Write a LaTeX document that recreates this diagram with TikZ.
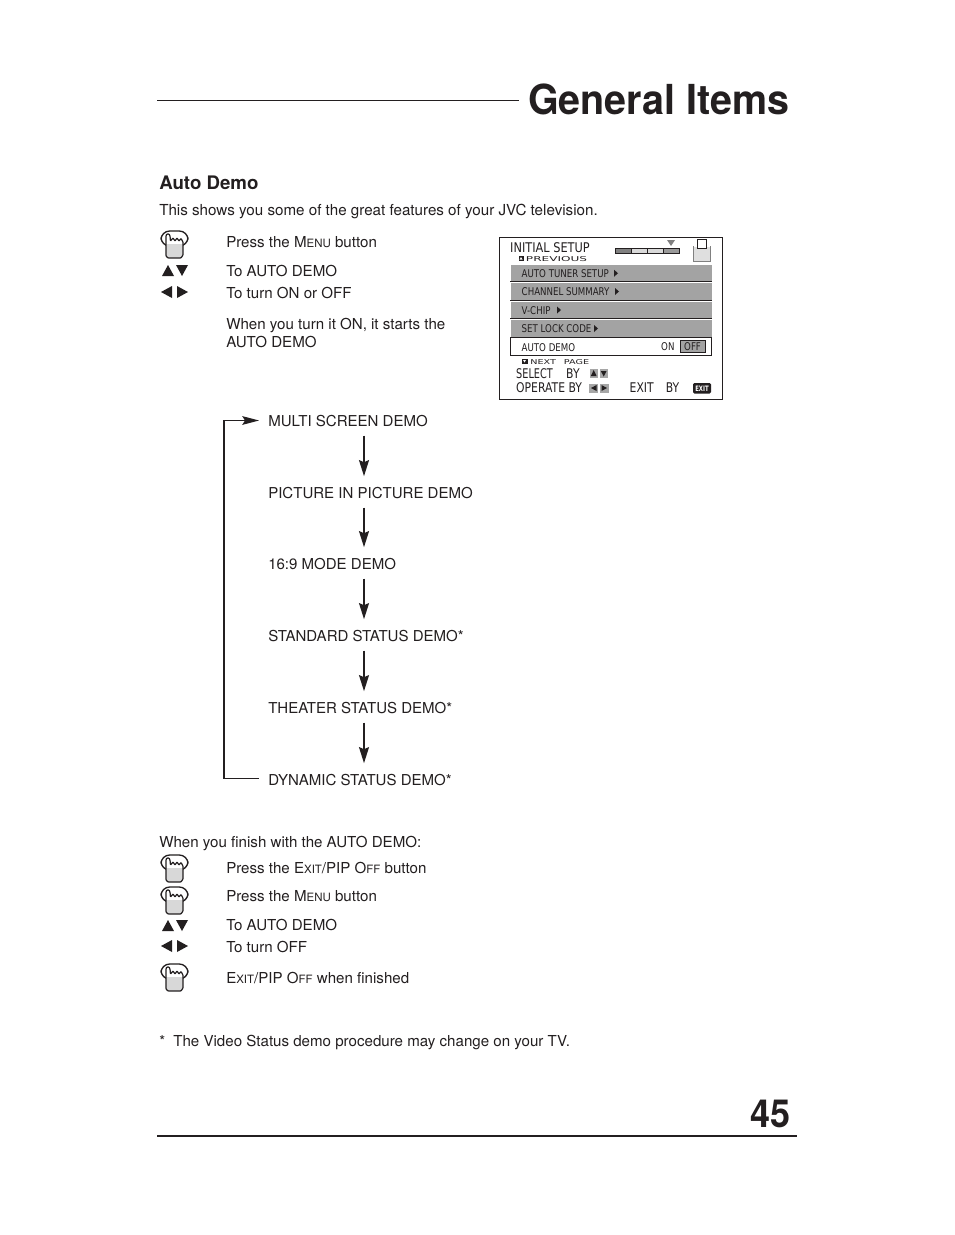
\documentclass[tikz,border=0pt]{standalone}
\usepackage{fontspec}
\setmainfont{TeX Gyre Heros}
\newfontfamily\menufont{DejaVu Sans}
\usetikzlibrary{arrows.meta,calc}
\newcommand{\scs}[1]{{\fontsize{8.6pt}{10pt}\selectfont #1}}
\tikzset{
  x=0.75pt,y=-0.75pt,
  body/.style={anchor=base west,inner sep=0pt,font=\fontsize{11.33pt}{14pt}\selectfont,text=txt},
  flowtext/.style={body,font=\fontsize{11.27pt}{14pt}\selectfont,text height=9pt,text depth=2pt},
  flow/.style={draw=txt,line width=1.1pt,-{Stealth[length=12pt,width=7.5pt,inset=1.5pt]}},
  loopline/.style={draw=txt,line width=0.8pt},
  menu/.style={anchor=base west,inner sep=0pt,text=txt,font=\menufont\fontsize{8pt}{9pt}\selectfont,xscale=0.81},
  menubig/.style={menu,font=\menufont\fontsize{10pt}{11pt}\selectfont},
  menusm/.style={anchor=base west,inner sep=0pt,text=txt,font=\menufont\fontsize{5pt}{6pt}\selectfont,xscale=1.45},
  tri/.style={fill=txt,draw=none},
  hand/.pic={
    \draw[txt,line width=1pt,rounded corners=6.5pt] (1,3) rectangle (28,18);
    \fill[white] (6,28) -- (6,7.5) -- (7,6) -- (9,6) -- (10,8) -- (10.5,13) -- (13,10) -- (15,13) -- (17,10) -- (19,13) -- (21,10.5) -- (23,14) -- (23,27) -- (21,30) -- (8,30) -- cycle;
    \fill[handgray] (6,16) rectangle (23,30);
    \fill[white] (4,27) -- (8,30) -- (4,30) -- cycle;
    \fill[white] (25,27) -- (21,30) -- (25,30) -- cycle;
    \draw[txt,line width=0.9pt,rounded corners=0.5pt]
      (6,28) -- (6,7.5) -- (7,6) -- (9,6) -- (10,8) -- (10.5,13) -- (13,10) -- (15,13) -- (17,10) -- (19,13) -- (21,10.5) -- (23,14) -- (23,27) -- (21,30) -- (8,30) -- cycle;
  }
}
\definecolor{txt}{HTML}{231F20}
\definecolor{menugray}{HTML}{A3A3A3}
\definecolor{handgray}{HTML}{D8D8D8}
\newcommand{\updown}[1]{\fill[tri] ($#1+(1,11)$) -- ($#1+(7,0)$) -- ($#1+(13,11)$) -- cycle; \fill[tri] ($#1+(15,0)$) -- ($#1+(27,0)$) -- ($#1+(21,11)$) -- cycle;}
\newcommand{\leftright}[1]{\fill[tri] ($#1+(1,6)$) -- ($#1+(12,0)$) -- ($#1+(12,12)$) -- cycle; \fill[tri] ($#1+(17,0)$) -- ($#1+(28,6)$) -- ($#1+(17,12)$) -- cycle;}
\begin{document}
\begin{tikzpicture}
\useasboundingbox (0,0) rectangle (954,1235);
\fill[white] (0,0) rectangle (954,1235);
% header
\node[anchor=base east,inner sep=0pt,text=txt,font=\fontsize{31pt}{36pt}\selectfont\bfseries,xscale=0.955] (title) at (789.5,114) {General Items};
\coordinate (headstart) at (157,100.5);
\draw[txt,line width=0.8pt] (headstart) -- (518.5,100.5);
\node[body,font=\fontsize{14pt}{16pt}\selectfont\bfseries] (h) at (159,189) {Auto Demo};
\node[body,font=\fontsize{11.38pt}{14pt}\selectfont] (intro) at (159,215) {This shows you some of the great features of your JVC television.};
% steps
\pic at (160,228) {hand};
\node[body] (s1) at (226,247) {Press the M\scs{ENU} button};
\updown{(161,265)}
\node[body] (s2) at (226,276) {To AUTO DEMO};
\leftright{(160,286)}
\node[body] (s3) at (226,298) {To turn ON or OFF};
\node[body] (s4) at (226,329) {When you turn it ON, it starts the};
\node[body] (s5) at (226,347) {AUTO DEMO};
% menu screen
\draw[txt,line width=0.7pt] (499.5,237.5) rectangle (722.5,399.5);
\node[menubig,xscale=1.05] (m0) at (510,252) {INITIAL SETUP};
\fill[tri] (518.5,256) rectangle (523.5,261);
\fill[white] (521,257) -- (519.5,259.5) -- (522.5,259.5) -- cycle;
\node[menusm,xscale=1.25] (m1) at (525.5,261) {PREVIOUS};
\fill[txt] (615,248) rectangle (680,254);
\fill[gray] (616,249) rectangle (631,253);
\fill[gray!30] (632,249) rectangle (647,253);
\fill[gray!30] (648,249) rectangle (663,253);
\fill[gray!80] (664,249) rectangle (679,253);
\fill[gray] (667,240) -- (675,240) -- (671,246) -- cycle;
\fill[gray!25] (693,247) -- (710,247) -- (710,261) -- (693,261) -- cycle;
\draw[gray,line width=0.5pt] (693,246) -- (693,261) -- (710,261) -- (710,246);
\draw[txt,line width=0.8pt,fill=white] (697.5,239.5) rectangle (706.5,248.5);
% rows
\foreach \y/\h/\t/\ax in {265/16.5/AUTO TUNER SETUP/614,283/17/CHANNEL SUMMARY/615,302/16/V-CHIP/557,320/17/SET LOCK CODE/594}{
  \fill[menugray] (511,\y) rectangle (711.5,\y+\h);
  \draw[txt,line width=0.7pt] (510,\y+\h) -- (712,\y+\h);
  \node[menu] at (521.5,\y+\h/2+4) {\t};
  \fill[txt] (\ax,\y+\h/2-3.5) -- (\ax+4,\y+\h/2) -- (\ax,\y+\h/2+3.5) -- cycle;
}
\draw[txt,line width=0.8pt,fill=white] (510.5,337.5) rectangle (711.5,355.5);
\node[menu] (m6) at (521.5,351) {AUTO DEMO};
\node[menu] (m7) at (661,350) {ON};
\draw[txt,line width=0.6pt,fill=menugray] (680.5,340.5) rectangle (705.5,352.5);
\node[menu] (m8) at (684,350) {OFF};
\fill[tri] (521.5,358.5) rectangle (527.5,364);
\fill[white] (523,360) -- (526,360) -- (524.5,362.5) -- cycle;
\node[menusm] (m9) at (530,364) {NEXT\hspace{2.5pt} PAGE};
\node[menubig,xscale=0.9] (m10) at (516,378) {SELECT};
\node[menubig] (m10b) at (566,378) {BY};
\fill[gray!70] (589.5,369) rectangle (598,378);
\fill[gray!70] (599.5,369) rectangle (608,378);
\fill[txt] (593.7,370) -- (590.8,376) -- (596.6,376) -- cycle;
\fill[txt] (603.7,376.5) -- (600.8,371) -- (606.6,371) -- cycle;
\node[menubig] (m11) at (516,392) {OPERATE BY};
\fill[gray!70] (589,383.5) rectangle (598,393);
\fill[gray!70] (600,383.5) rectangle (608.5,393);
\fill[txt] (591,388) -- (596.5,385) -- (596.5,391) -- cycle;
\fill[txt] (607,388) -- (601.5,385) -- (601.5,391) -- cycle;
\node[menubig] (m12) at (629.5,392) {EXIT\hspace{8pt} BY};
\fill[txt,rounded corners=1pt] (693,383) rectangle (711,393.5);
\node[anchor=center,inner sep=0pt,text=white,font=\menufont\fontsize{5.6pt}{6pt}\selectfont\bfseries,xscale=0.72] (m13) at (702,388.3) {EXIT};
% flow
\coordinate (ax) at (364,0);
\node[flowtext] (d1) at (268,426) {MULTI SCREEN DEMO};
\node[flowtext] (d2) at (268,498) {PICTURE IN PICTURE DEMO};
\node[flowtext] (d3) at (268,569) {16:9 MODE DEMO};
\node[flowtext] (d4) at (268,641) {STANDARD STATUS DEMO*};
\node[flowtext] (d5) at (268,713) {THEATER STATUS DEMO*};
\node[flowtext] (d6) at (268,785) {DYNAMIC STATUS DEMO*};
\foreach \a/\b in {d1/d2,d2/d3,d3/d4,d4/d5,d5/d6}{
  \draw[flow,shorten <=5pt,shorten >=7.2pt] (\a.south -| ax) -- (\b.north -| ax);
}
\coordinate (loopx) at (224,0);
\coordinate (d1mid) at ($(d1.base west)+(-9,-5.5)$);
\coordinate (d6mid) at ($(d6.base west)+(-9,-6.5)$);
\draw[loopline,-{Stealth[length=12.5pt,width=6.5pt,inset=2pt]}] (d6mid) -- (d6mid -| loopx) -- (d1mid -| loopx) -- (d1mid);
% finish
\node[body] (f0) at (159,847) {When you finish with the AUTO DEMO:};
\pic at (160,852) {hand};
\node[body] (f1) at (226,873) {Press the E\scs{XIT}/PIP O\scs{FF} button};
\pic at (160,884) {hand};
\node[body] (f2) at (226,901) {Press the M\scs{ENU} button};
\updown{(161,920)}
\node[body] (f3) at (226,930) {To AUTO DEMO};
\leftright{(160,940)}
\node[body] (f4) at (226,952) {To turn OFF};
\pic at (160,961) {hand};
\node[body] (f5) at (226,983) {E\scs{XIT}/PIP O\scs{FF} when finished};
\node[body] (note) at (159,1046) {*\hspace{3pt} The Video Status demo procedure may change on your TV.};
% footer
\node[anchor=base east,inner sep=0pt,text=txt,font=\fontsize{29pt}{34pt}\selectfont\bfseries,xscale=0.93] (pg) at (790.5,1127) {45};
\coordinate (footl) at (157,1135.5);
\coordinate (footr) at (797,1135.5);
\draw[txt,line width=1.5pt] (footl) -- (footr);
\end{tikzpicture}
\end{document}
